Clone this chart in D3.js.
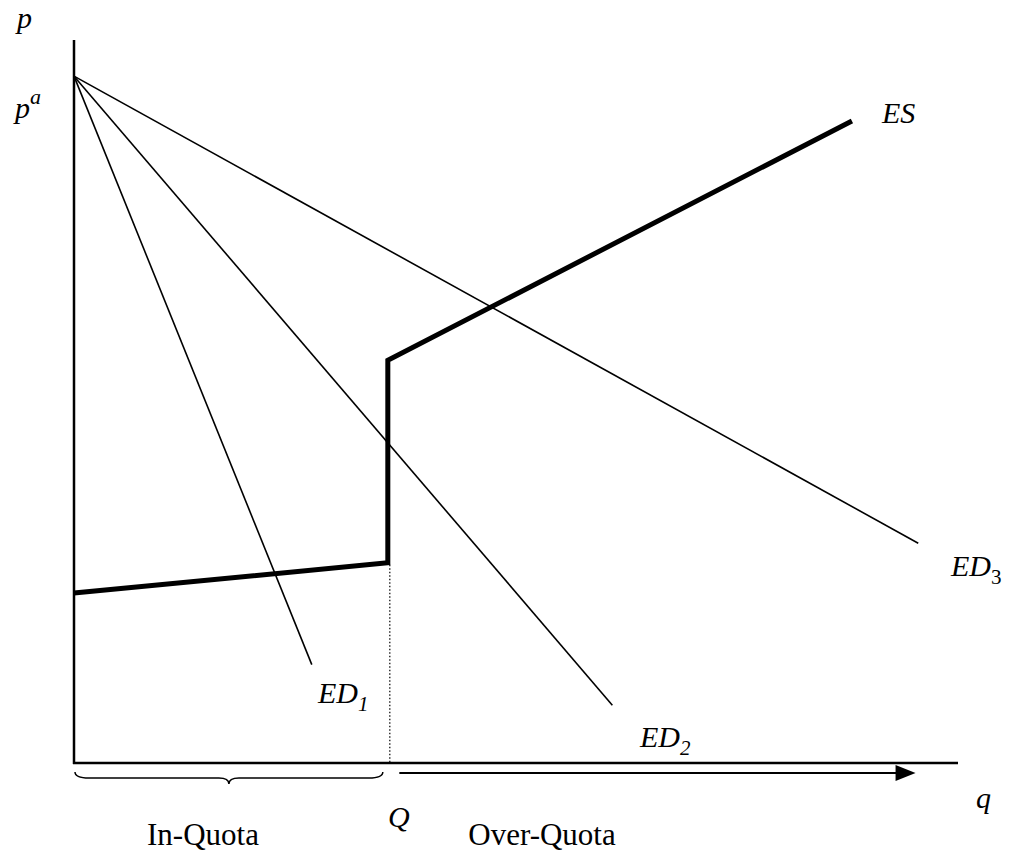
<!DOCTYPE html>
<html><head><meta charset="utf-8">
<script src="https://cdn.jsdelivr.net/npm/d3@7"></script>
<style>body{margin:0;background:#fff}svg{display:block}text{font-family:"Liberation Serif","Times New Roman",serif;fill:#000}</style>
</head><body><svg id="c" width="1009" height="856"></svg>
<script>
// Data (conceptual units: q quantity 0..100, p price 0..100)
const pAutarky = 95;
const quotaQ = 35.5;
const ed1 = [[0, 95], [26.9, 13.6]];
const ed2 = [[0, 95], [60.9, 8.0]];
const ed3 = [[0, 95], [95.5, 30.4]];
const es = [[0, 23.5], [35.5, 27.7], [35.5, 55.7], [88.0, 88.8]];
const arrowQ = [36.8, 95.2];
const axisLabels = {p: "p", q: "q", Q: "Q"};

const svg = d3.select("#c");
const x = d3.scaleLinear().domain([0, 100]).range([74, 958]);
const y = d3.scaleLinear().domain([0, 100]).range([763, 40]);
const line = d3.line().x(d => x(d[0])).y(d => y(d[1]));

// axes
svg.append("line").attr("x1", x(0)).attr("x2", x(0)).attr("y1", y(100)).attr("y2", y(0) + 1)
  .attr("stroke", "#000").attr("stroke-width", 2.5);
svg.append("line").attr("x1", x(0) - 1).attr("x2", x(100)).attr("y1", y(0)).attr("y2", y(0))
  .attr("stroke", "#000").attr("stroke-width", 2.5);

// ED lines
[ed1, ed2, ed3].forEach(d => {
  svg.append("path").attr("d", line(d)).attr("fill", "none").attr("stroke", "#000").attr("stroke-width", 1.6);
});

// dotted quota line
svg.append("line").attr("x1", x(quotaQ) + 2).attr("x2", x(quotaQ) + 2).attr("y1", y(es[1][1]) + 2).attr("y2", y(0))
  .attr("stroke", "#000").attr("stroke-width", 1.2).attr("stroke-dasharray", "1.5,2");

// ES
svg.append("path").attr("d", line(es)).attr("fill", "none").attr("stroke", "#000")
  .attr("stroke-width", 5).attr("stroke-linejoin", "miter");

// brace under in-quota
const bx0 = x(0) + 1, bx1 = x(quotaQ) - 5, bm = (bx0 + bx1) / 2, by = y(0) + 9;
svg.append("path").attr("d",
  `M${bx0},${by} Q${bx0},${by + 6} ${bx0 + 14},${by + 6} L${bm - 10},${by + 6} Q${bm},${by + 6} ${bm},${by + 12}` +
  ` Q${bm},${by + 6} ${bm + 10},${by + 6} L${bx1 - 14},${by + 6} Q${bx1},${by + 6} ${bx1},${by}`)
  .attr("fill", "none").attr("stroke", "#000").attr("stroke-width", 1.5);

// over-quota arrow
const ay = y(0) + 10;
svg.append("line").attr("x1", x(arrowQ[0])).attr("x2", x(arrowQ[1]) - 18).attr("y1", ay).attr("y2", ay)
  .attr("stroke", "#000").attr("stroke-width", 2);
svg.append("path").attr("d", `M${x(arrowQ[1]) - 20},${ay - 8} L${x(arrowQ[1])},${ay} L${x(arrowQ[1]) - 20},${ay + 8} Z`)
  .attr("fill", "#000");

// labels
function lab(tx, ty, parts, opts = {}) {
  const t = svg.append("text").attr("x", tx).attr("y", ty).attr("font-size", opts.size || 30);
  parts.forEach(p => {
    const s = t.append("tspan").text(p.t);
    if (p.italic !== false) s.attr("font-style", "italic");
    if (p.dy) s.attr("dy", p.dy);
    if (p.size) s.attr("font-size", p.size);
  });
  if (opts.anchor) t.attr("text-anchor", opts.anchor);
  return t;
}
lab(17, 28, [{t: axisLabels.p}]);
lab(15, 118, [{t: "p"}, {t: "a", size: 22, dy: -14}]);
lab(882, 123, [{t: "ES"}]);
lab(951, 576, [{t: "ED"}, {t: "3", italic: false, size: 21, dy: 8}]);
lab(318, 703, [{t: "ED"}, {t: "1", size: 21, dy: 8}]);
lab(640, 747, [{t: "ED"}, {t: "2", size: 21, dy: 8}]);
lab(x(quotaQ) + 11, 827, [{t: axisLabels.Q}], {anchor: "middle"});
lab(976, 808, [{t: axisLabels.q}]);
lab(203, 845, [{t: "In-Quota", italic: false}], {anchor: "middle", size: 31});
lab(542, 845, [{t: "Over-Quota", italic: false}], {anchor: "middle", size: 31});
</script></body></html>
